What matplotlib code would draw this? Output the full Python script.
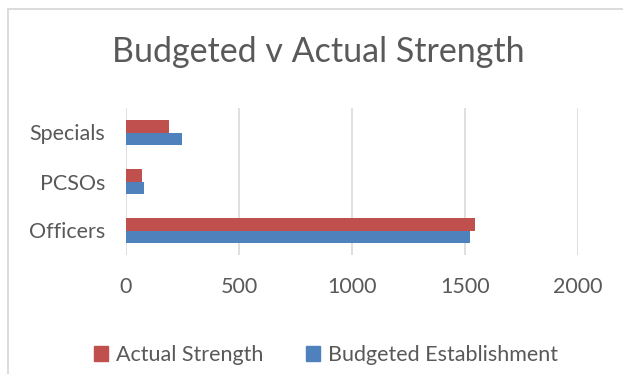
import matplotlib.pyplot as plt
from matplotlib.patches import Rectangle, Patch

categories = ['Officers', 'PCSOs', 'Specials']
actual = [1545, 72, 191]
budgeted = [1522, 80, 250]
ticks = [0, 500, 1000, 1500, 2000]

red = '#C0504D'
blue = '#4F81BD'
txt = '#595959'
grid = '#D9D9D9'

plt.rcParams['font.family'] = ['Lato', 'DejaVu Sans']

fig = plt.figure(figsize=(6.23, 3.74), dpi=100)
ax = fig.add_axes([126/623, 1-255/374, (577.7-126)/623, 147/374])

y = list(range(len(categories)))
h = 0.26
ax.barh([v + h/2 for v in y], actual, height=h, color=red, zorder=3)
ax.barh([v - h/2 for v in y], budgeted, height=h, color=blue, zorder=3)

ax.set_xlim(0, 2000)
ax.set_ylim(-0.5, 2.5)
ax.set_xticks(ticks)
ax.set_xticklabels([str(t) for t in ticks])
ax.set_yticks(y)
ax.set_yticklabels(categories)
ax.tick_params(length=0, labelsize=15.5, colors=txt)
ax.tick_params(axis='x', pad=16)
ax.tick_params(axis='y', pad=15)
for s in ax.spines.values():
    s.set_visible(False)
ax.grid(axis='x', color=grid, linewidth=1.2, zorder=0)

fig.text(318/623, 1-52/374, 'Budgeted v Actual Strength', ha='center', va='center',
         fontsize=24.5, color=txt)

handles = [Patch(color=red), Patch(color=blue)]
fig.legend(handles, ['Actual Strength', 'Budgeted Establishment'], loc='center',
           bbox_to_anchor=(326/623, 1-355/374), ncol=2, frameon=False,
           fontsize=15.5, labelcolor=txt, handlelength=0.65, handleheight=0.65,
           handletextpad=0.35, columnspacing=2.0)

fig.patches.append(Rectangle((8/623, -0.1), 1.2, 1-9/374+0.1, transform=fig.transFigure,
                             fill=False, edgecolor=grid, linewidth=1.3))

fig.savefig('out.png', dpi=100)
